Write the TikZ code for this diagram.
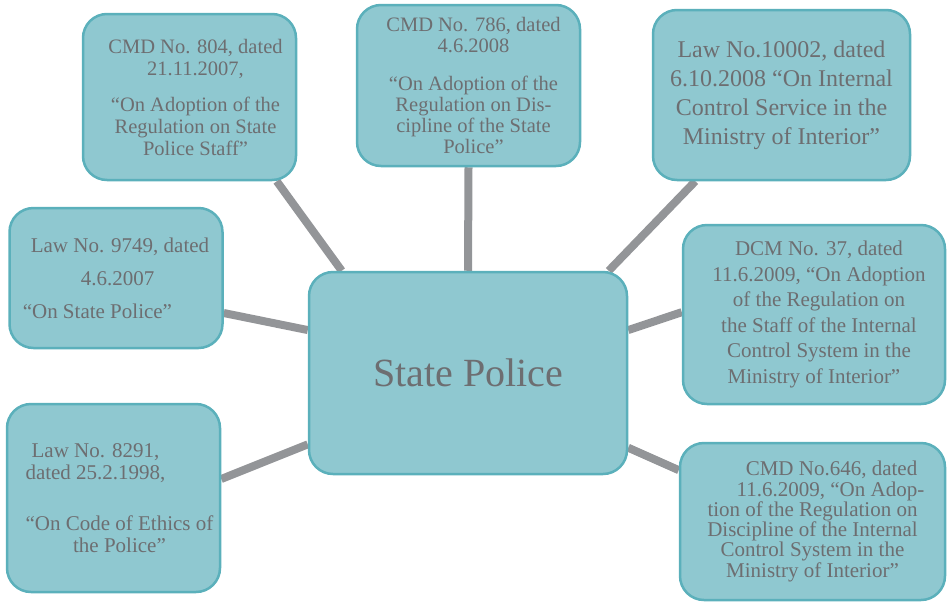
\documentclass[tikz,border=0pt]{standalone}
\usepackage{fontspec}
\setmainfont{Liberation Serif}
\usetikzlibrary{backgrounds}
\definecolor{boxfill}{HTML}{8FC8D0}
\definecolor{boxline}{HTML}{5BB0BB}
\definecolor{txtgray}{HTML}{6D6E71}
\definecolor{linkgray}{HTML}{939598}
\tikzset{
  docbox/.style={draw=boxline, fill=boxfill, line width=2.5pt, rounded corners=24pt,
    inner sep=0pt, align=center, text=txtgray},
  link/.style={draw=linkgray, line width=8pt},
}
\newcommand{\fs}[2]{\fontsize{#1}{#2}\selectfont}

\begin{document}
\begin{tikzpicture}[x=1pt,y=-1pt]
\useasboundingbox (0,0) rectangle (947,603);

\node[docbox, minimum width=318pt, minimum height=202pt, font=\fs{40}{46}] (sp) at (468,373) {State Police};

\node[docbox, minimum width=213pt, minimum height=166pt, font=\fs{20.5}{22}] (cmdA) at (189.5,97)
  {\hspace*{12pt}CMD No. 804, dated\\ \hspace*{12pt}21.11.2007,\\[14pt] \hspace*{12pt}“On Adoption of the\\ \hspace*{12pt}Regulation on State\\ \hspace*{12pt}Police Staff”};
\node[docbox, minimum width=223pt, minimum height=161pt, font=\fs{20.5}{21}] (cmdB) at (468.5,85.5)
  {\hspace*{10pt}CMD No. 786, dated\\ \hspace*{10pt}4.6.2008\\[17pt] \hspace*{10pt}“On Adoption of the\\ \hspace*{10pt}Regulation on Dis-\\ \hspace*{10pt}cipline of the State\\ \hspace*{10pt}Police”};
\node[docbox, minimum width=257pt, minimum height=170pt, font=\fs{24}{29}] (lawC) at (781.5,95)
  {Law No.10002, dated\\ 6.10.2008 “On Internal\\ Control Service in the\\ Ministry of Interior”};
\node[docbox, align=left, minimum width=213pt, minimum height=140pt, font=\fs{21}{33}] (lawA) at (116,278)
  {\hspace*{8pt}Law No. 9749, dated\\ \hspace*{58pt}4.6.2007\\ “On State Police”};
\node[docbox, minimum width=213pt, minimum height=188pt, font=\fs{21}{21.5}] (lawB) at (113.5,498)
  {\hspace*{-36pt}Law No. 8291,\\ \hspace*{-36pt}dated 25.2.1998,\\[30pt] \hspace*{12pt}“On Code of Ethics of\\ \hspace*{12pt}the Police”};
\node[docbox, minimum width=262pt, minimum height=179pt, font=\fs{21}{25.6}] (dcm) at (814,314.5)
  {\hspace*{10pt}DCM No. 37, dated\\ \hspace*{10pt}11.6.2009, “On Adoption\\ \hspace*{10pt}of the Regulation on\\ \hspace*{10pt}the Staff of the Internal\\ \hspace*{10pt}Control System in the\\ Ministry of Interior”};
\node[docbox, minimum width=265pt, minimum height=157pt, font=\fs{21}{20.3}] (cmdC) at (812.5,521.5)
  {\hspace*{38pt}CMD No.646, dated\\ \hspace*{36pt}11.6.2009, “On Adop-\\ tion of the Regulation on\\ Discipline of the Internal\\ Control System in the\\ Ministry of Interior”};

\begin{scope}[on background layer]
\draw[link] (cmdA.-44) -- (sp.141);
\draw[link] (cmdB.south) -- (sp.north);
\draw[link] (lawC.-135) -- (sp.36);
\draw[link] (lawA.-18) -- (sp.165);
\draw[link] (lawB.10) -- (sp.204);
\draw[link] (dcm.179) -- (sp.15);
\draw[link] (cmdC.159) -- (sp.-25);
\end{scope}
\end{tikzpicture}
\end{document}
